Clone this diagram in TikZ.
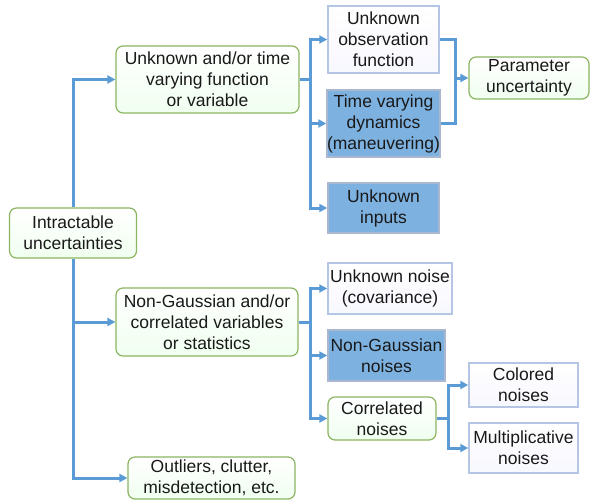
\documentclass[tikz,border=0pt]{standalone}
\usepackage{fontspec}
\setmainfont{Liberation Sans}
\usetikzlibrary{arrows.meta,calc}
\definecolor{linkblue}{HTML}{5B9BD5}
\definecolor{fillblue}{HTML}{7DB1DF}
\definecolor{greenedge}{HTML}{8BB561}
\definecolor{paleedge}{HTML}{B4C6E4}
\begin{document}
\begin{tikzpicture}[x=1pt,y=-1pt,
  base/.style={align=center, inner sep=0pt, font=\fontsize{17.5}{21}\selectfont, text=black!90},
  greenbox/.style={base, draw=greenedge, line width=1.2pt, rounded corners=7pt, top color=white, bottom color=green!6!white},
  palebox/.style={base, draw=paleedge, line width=1.5pt, top color=white, bottom color=blue!3!white},
  bluebox/.style={base, draw=paleedge!80!gray, line width=1.5pt, fill=fillblue},
  link/.style={draw=linkblue, line width=3pt},
  arr/.style={link, -{Triangle[length=8pt,width=8pt]}}]
\useasboundingbox (0,0) rectangle (591,501);

\node[greenbox, minimum width=127pt, minimum height=50pt] (root) at (73,233) {Intractable\\uncertainties};
\node[greenbox, minimum width=183pt, minimum height=67pt] (uf) at (207.5,79.5) {Unknown and/or time\\varying function\\or variable};
\node[palebox, minimum width=111pt, minimum height=67pt] (obs) at (383.5,39.5) {Unknown\\observation\\function};
\node[bluebox, minimum width=111pt, minimum height=67pt] (tvd) at (383.5,123.5) {Time varying\\dynamics\\(maneuvering)};
\node[bluebox, minimum width=111pt, minimum height=50pt] (ui) at (383.5,208) {Unknown\\inputs};
\node[greenbox, minimum width=120pt, minimum height=42pt] (pu) at (529,78) {Parameter\\uncertainty};
\node[greenbox, minimum width=182pt, minimum height=68pt] (ng) at (207,322) {Non-Gaussian and/or\\correlated variables\\or statistics};
\node[palebox, minimum width=124pt, minimum height=51pt] (un) at (390,288.5) {Unknown noise\\(covariance)};
\node[bluebox, minimum width=117pt, minimum height=51pt] (ngn) at (386.5,355.5) {Non-Gaussian\\noises};
\node[greenbox, minimum width=108pt, minimum height=43pt] (cn) at (382,418.5) {Correlated\\noises};
\node[palebox, minimum width=109pt, minimum height=44pt] (col) at (523.5,385) {Colored\\noises};
\node[palebox, minimum width=109pt, minimum height=50pt] (mul) at (523.5,448) {Multiplicative\\noises};
\node[greenbox, minimum width=167pt, minimum height=42pt] (out) at (211.5,478) {Outliers, clutter,\\misdetection, etc.};

% trunk
\draw[arr] (root.north) |- (uf.west);
\draw[arr] (root.south) |- (out.west);
\draw[arr] (root.south |- ng.west) -- (ng.west);

% first branch
\coordinate (j1) at ($(uf.east)+(11,0)$);
\draw[link] (uf.east) -- (j1);
\draw[arr] (j1) |- (obs.west);
\draw[arr] (j1) |- (tvd.west);
\draw[arr] (j1) |- (ui.west);

% merge to parameter uncertainty
\coordinate (m1) at ($(obs.east)+(16,0)$);
\draw[link] (obs.east) -- (m1) |- (tvd.east);
\draw[arr] (m1 |- pu.west) -- (pu.west);

% second branch
\coordinate (j2) at ($(ng.east)+(12,0)$);
\draw[link] (ng.east) -- (j2);
\draw[arr] (j2) |- (un.west);
\draw[arr] (j2) |- (ngn.west);
\draw[arr] (j2) |- (cn.west);

% third branch
\coordinate (j3) at ($(cn.east)+(12,0)$);
\draw[link] (cn.east) -- (j3);
\draw[arr] (j3) |- (col.west);
\draw[arr] (j3) |- (mul.west);
\end{tikzpicture}
\end{document}
